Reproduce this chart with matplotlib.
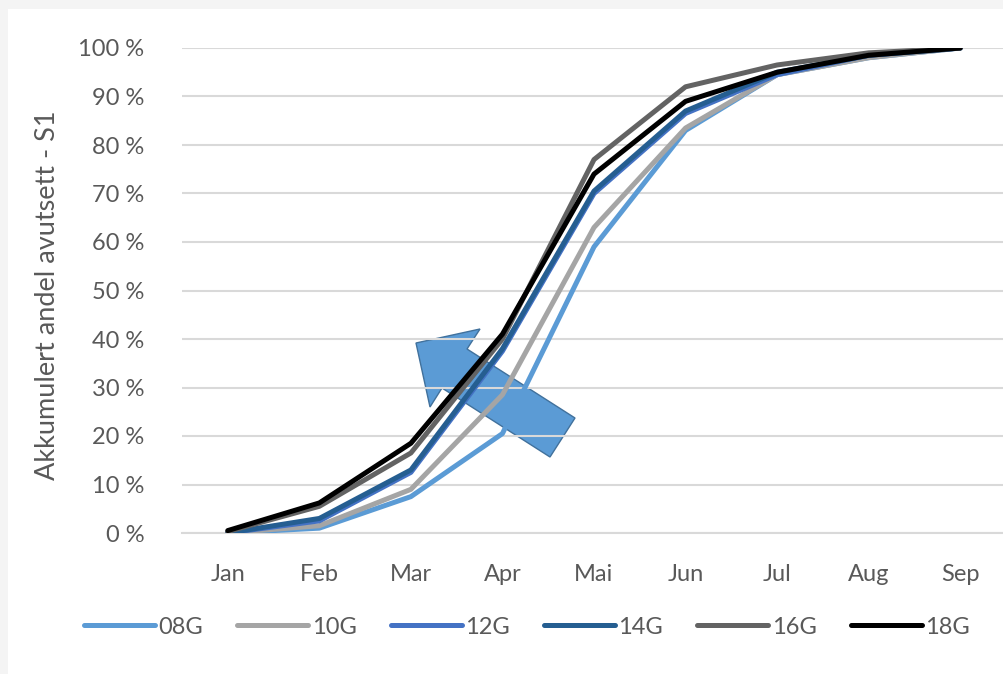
import matplotlib
matplotlib.use("Agg")
import matplotlib.pyplot as plt
from matplotlib.patches import Polygon, Rectangle
from matplotlib.ticker import FuncFormatter

months = ["Jan", "Feb", "Mar", "Apr", "Mai", "Jun", "Jul", "Aug", "Sep"]
names = ["08G", "10G", "12G", "14G", "16G", "18G"]
g08 = [0, 1, 7.5, 20.5, 59, 83, 94.5, 98, 100]
g10 = [0, 1.5, 9, 28.5, 63, 83.5, 94.5, 98, 100]
g12 = [0, 2.5, 12.5, 37.5, 70, 86.5, 94.5, 98.5, 100]
g14 = [0, 3, 13, 38, 70.5, 87, 95, 98.5, 100]
g16 = [0.3, 5.5, 16.5, 40, 77, 92, 96.5, 99, 100]
g18 = [0.5, 6.2, 18.5, 41, 74, 89, 95, 98.5, 100]
series = [g08, g10, g12, g14, g16, g18]
colors = ["#5b9bd5", "#a5a5a5", "#4472c4", "#255e91", "#636363", "#000000"]

W, H = 1004, 674
plt.rcParams['font.family'] = ['Lato', 'DejaVu Sans']
txt = "#595959"

fig = plt.figure(figsize=(W / 100, H / 100), dpi=100, facecolor="#f4f4f4")
# white chart area inside the light frame
fig.patches.append(Rectangle((8 / W, 0), 1, 1 - 9 / H, transform=fig.transFigure,
                             facecolor="white", edgecolor="none", zorder=-2))

# block arrow (annotation), pixel positions of its outline
arrow_px = [(416, 343), (480, 329), (467, 349), (575, 418), (550, 457), (442, 388), (430, 407)]
fig.patches.append(Polygon([(px / W, 1 - py / H) for px, py in arrow_px], closed=True,
                           transform=fig.transFigure, facecolor="#5b9bd5",
                           edgecolor="#41719c", lw=1, zorder=-1))

ax = fig.add_axes([182 / W, 1 - 533 / H, 824 / W, 485 / H])
ax.set_zorder(1)
ax.set_facecolor("none")
x = range(len(months))
for name, vals, c in zip(names, series, colors):
    ax.plot(x, vals, color=c, lw=3.6, label=name, zorder=3, solid_capstyle="round")

ax.set_xlim(-0.5, len(months) - 0.5)
ax.set_ylim(0, 100)
ax.set_yticks(range(0, 101, 10))
ax.yaxis.set_major_formatter(FuncFormatter(lambda v, p: f"{v:.0f} %"))
ax.set_xticks(list(x))
ax.set_xticklabels(months)
ax.grid(axis="y", color="#d9d9d9", lw=1.5)
ax.set_axisbelow(True)
for s in ["top", "right", "left"]:
    ax.spines[s].set_visible(False)
ax.spines["bottom"].set_color("#d9d9d9")
ax.spines["bottom"].set_linewidth(1.5)
ax.tick_params(length=0, labelsize=17, labelcolor=txt)
ax.tick_params(axis="y", pad=27)
ax.tick_params(axis="x", pad=22)

fig.text(48 / W, 1 - 295 / H, "Akkumulert andel avutsett - S1", rotation=90,
         ha="center", va="center", fontsize=19.5, color=txt)

leg = fig.legend(loc="center", bbox_to_anchor=(527 / W, 1 - 627 / H), ncol=6,
                 frameon=False, fontsize=17, handlelength=3.0, handletextpad=0.15,
                 columnspacing=1.45)
for t in leg.get_texts():
    t.set_color(txt)

fig.savefig("out.png", dpi=100, facecolor=fig.get_facecolor())
